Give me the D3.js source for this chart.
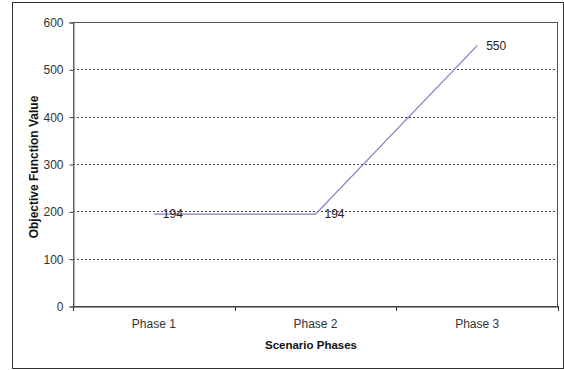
<!DOCTYPE html>
<html><head><meta charset="utf-8">
<script src="https://cdn.jsdelivr.net/npm/d3@7"></script>
<style>body{margin:0;background:#fff}svg{display:block}text{font-family:Arial,"Liberation Sans",sans-serif}</style>
</head><body><svg id="c" width="564" height="370"></svg>
<script>
const categories = ["Phase 1", "Phase 2", "Phase 3"];
const values = [194, 194, 550];
const yTicks = [0, 100, 200, 300, 400, 500, 600];

const svg = d3.select("#c");
const m = {l: 73, r: 558, t: 22, b: 306};
svg.append("rect").attr("x", 12.5).attr("y", 2.5).attr("width", 551).attr("height", 366)
  .attr("fill", "#fff").attr("stroke", "#333").attr("stroke-width", 1);

const x = d3.scaleBand().domain(categories).range([m.l, m.r]);
const y = d3.scaleLinear().domain([0, 600]).range([m.b, m.t]);

// gridlines
svg.append("g").selectAll("line").data(yTicks.filter(d => d > 0 && d < 600)).join("line")
  .attr("x1", m.l).attr("x2", m.r)
  .attr("y1", d => Math.round(y(d)) + 0.5).attr("y2", d => Math.round(y(d)) + 0.5)
  .attr("stroke", "#444").attr("stroke-dasharray", "2,2");

// plot border
svg.append("rect").attr("x", m.l + 0.5).attr("y", m.t + 0.5).attr("width", m.r - m.l - 1).attr("height", m.b - m.t)
  .attr("fill", "none").attr("stroke", "#555");

// y axis
const ya = svg.append("g").attr("transform", `translate(${m.l + 0.5},0.5)`)
  .call(d3.axisLeft(y).tickValues(yTicks).tickSize(4).tickPadding(6));
ya.select(".domain").attr("stroke", "#666");
ya.selectAll(".tick line").attr("stroke", "#444");
ya.selectAll("text").attr("font-size", 12).attr("fill", "#333")
  .attr("font-family", "Arial,'Liberation Sans',sans-serif");

// x axis
const xa = svg.append("g").attr("transform", `translate(0,${m.b + 0.5})`)
  .call(d3.axisBottom(x).tickSize(0).tickPadding(13));
xa.select(".domain").attr("stroke", "#333");
xa.selectAll("text").attr("font-size", 12).attr("fill", "#333")
  .attr("font-family", "Arial,'Liberation Sans',sans-serif");
const bounds = [m.l, ...categories.map(c => x(c) + x.bandwidth())];
svg.append("g").selectAll("line").data(bounds).join("line")
  .attr("x1", d => Math.round(d) + 0.5).attr("x2", d => Math.round(d) + 0.5)
  .attr("y1", m.b).attr("y2", m.b + 5).attr("stroke", "#333");

// line
const cx = c => x(c) + x.bandwidth() / 2;
svg.append("path").datum(values)
  .attr("d", d3.line().x((d, i) => cx(categories[i])).y(d => y(d)))
  .attr("fill", "none").attr("stroke", "#8080c8").attr("stroke-width", 1.3);

// labels
svg.append("g").selectAll("text").data(values).join("text")
  .attr("x", (d, i) => cx(categories[i]) + 9).attr("y", d => y(d))
  .attr("dy", "0.35em").attr("font-size", 12).attr("fill", "#222").text(d => d);

// axis titles
svg.append("text").attr("x", 311).attr("y", 349).attr("text-anchor", "middle")
  .attr("font-size", 11.5).attr("font-weight", "bold").attr("fill", "#111").text("Scenario Phases");
svg.append("text").attr("transform", `translate(38,167) rotate(-90)`)
  .attr("text-anchor", "middle").attr("font-size", 12).attr("font-weight", "bold").attr("fill", "#111")
  .text("Objective Function Value");
</script></body></html>
